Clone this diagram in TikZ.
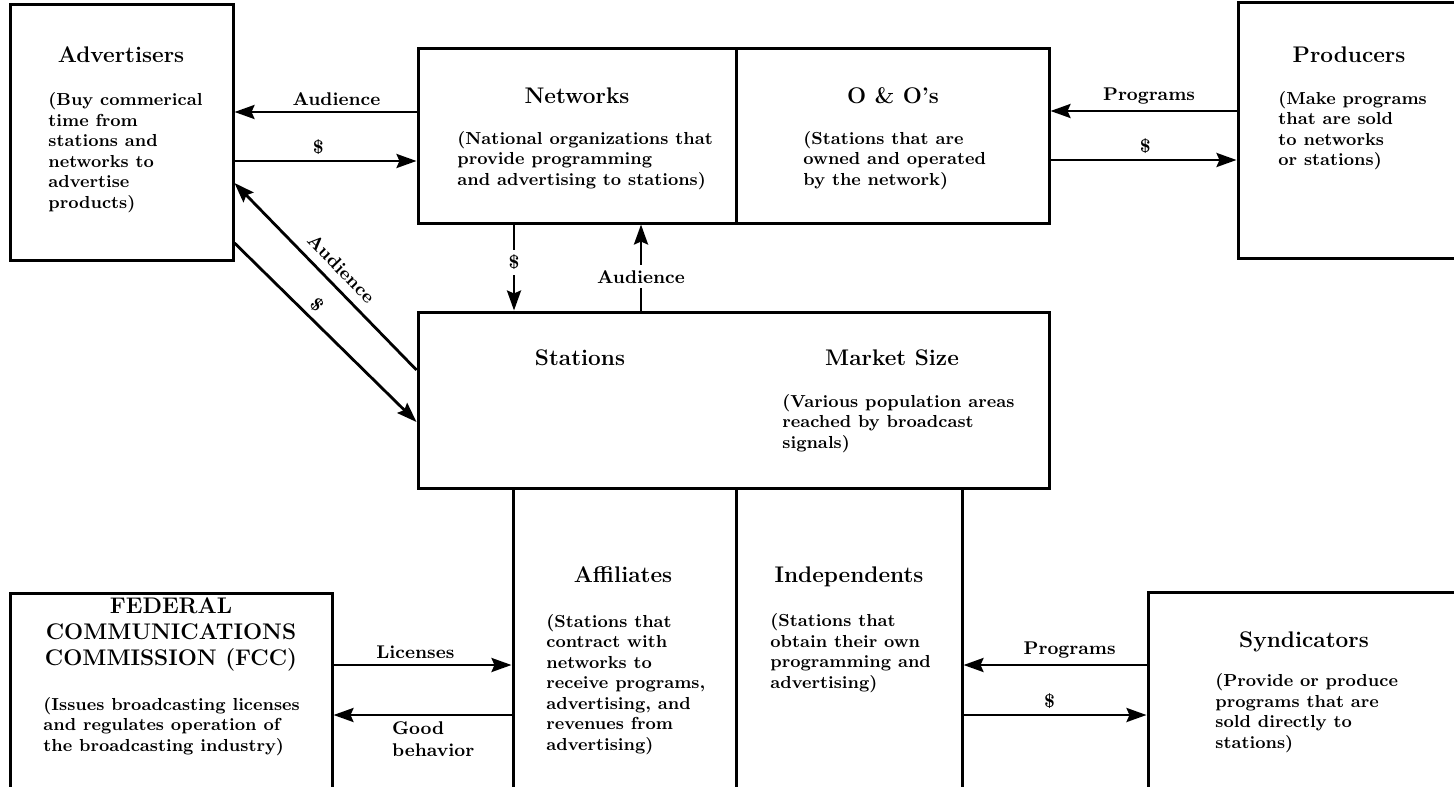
\documentclass[tikz,border=0pt]{standalone}
\usepackage{tikz}
\usetikzlibrary{arrows.meta}
\tikzstyle{box} = [rectangle, draw=black, line width=1.5pt, inner sep=0pt]
\tikzstyle{head} = [font=\fontsize{11.3}{13}\selectfont\bfseries, inner sep=0pt, anchor=base, align=center]
\tikzstyle{info} = [font=\fontsize{8.7}{10.25}\selectfont\bfseries, inner sep=0pt, anchor=base west, align=left]
\tikzstyle{flow} = [line width=1.4pt, -{Stealth[length=10pt, width=7pt, inset=1.5pt]}]
\tikzstyle{tag} = [font=\fontsize{9.2}{11}\selectfont\bfseries, inner sep=2.5pt]

\begin{document}
\begin{tikzpicture}[x=0.5pt, y=-0.5pt]
\useasboundingbox (0,0) rectangle (1454,786);

% boxes
\node (adv) [box, minimum width=111.5pt, minimum height=127.5pt] at (121.5,132.5) {};
\node (net) [box, minimum width=159pt, minimum height=87pt] at (577,136) {};
\node (oo) [box, minimum width=156.5pt, minimum height=87pt] at (892.5,136) {};
\node (prod) [box, minimum width=116pt, minimum height=127.5pt] at (1354,130.5) {};
\node (stat) [box, minimum width=315.5pt, minimum height=88pt] at (733.5,400) {};
\node (affil) [box, minimum width=111.5pt, minimum height=156pt] at (624.5,644) {};
\node (indep) [box, minimum width=113pt, minimum height=156pt] at (849,644) {};
\node (fcc) [box, minimum width=161pt, minimum height=103.5pt] at (171,696.5) {};
\node (synd) [box, minimum width=161pt, minimum height=104pt] at (1309,696) {};

% titles (base = last line)
\node (advh) [head] at (121,63) {Advertisers};
\node (neth) [head] at (577,104) {Networks};
\node (ooh) [head] at (893,104) {O \& O's};
\node (prodh) [head] at (1349,63) {Producers};
\node (stath) [head] at (580,365) {Stations};
\node (mkth) [head] at (892,365) {Market Size};
\node (affilh) [head] at (623,582) {Affiliates};
\node (indeph) [head] at (849,582) {Independents};
\node (fcch) [head] at (171,665) {FEDERAL\\COMMUNICATIONS\\COMMISSION (FCC)};
\node (syndh) [head] at (1304,647) {Syndicators};

% descriptions (base = last line)
\node (advd) [info] at (48,208.5) {(Buy commerical\\time from\\stations and\\networks to\\advertise\\products)};
\node (netd) [info] at (457,185) {(National organizations that\\provide programming\\and advertising to stations)};
\node (ood) [info] at (803,185) {(Stations that are\\owned and operated\\by the network)};
\node (prodd) [info] at (1278,166) {(Make programs\\that are sold\\to networks\\or stations)};
\node (mktd) [info] at (782,448) {(Various population areas\\reached by broadcast\\signals)};
\node (affild) [info] at (546,750) {(Stations that\\contract with\\networks to\\receive programs,\\advertising, and\\revenues from\\advertising)};
\node (indepd) [info] at (770,688) {(Stations that\\obtain their own\\programming and\\advertising)};
\node (fccd) [info] at (43,751) {(Issues broadcasting licenses\\and regulates operation of\\the broadcasting industry)};
\node (syndd) [info] at (1215,748) {(Provide or produce\\programs that are\\sold directly to\\stations)};

% money and audience flows
\draw[flow] (net.west |- 0,112) -- (adv.east |- 0,112) node[tag, above, pos=0.44] {Audience};
\draw[flow] (adv.east |- 0,161) -- (net.west |- 0,161) node[tag, above, pos=0.46] {\$};
\draw[flow] (prod.west |- 0,111) -- (oo.east |- 0,111) node[tag, above, pos=0.47] {Programs};
\draw[flow] (oo.east |- 0,160) -- (prod.west |- 0,160) node[tag, above, pos=0.51] {\$};
\draw[flow] (stat.west |- 0,370) -- (adv.east |- 0,183) node[tag, sloped, above=2pt, pos=0.48] {Audience};
\draw[flow] (adv.east |- 0,243) -- (stat.west |- 0,422) node[tag, sloped, above, pos=0.4] {\$};
\draw[flow] (net.south -| 514,0) -- (stat.north -| 514,0) node[tag, fill=white, pos=0.44] {\$};
\draw[flow] (stat.north -| 641,0) -- (net.south -| 641,0) node[tag, fill=white, pos=0.39] {Audience};
\draw[flow] (fcc.east |- 0,665) -- (affil.west |- 0,665) node[tag, above, pos=0.46] {Licenses};
\draw[flow] (affil.west |- 0,715) -- (fcc.east |- 0,715) node[tag, below, align=left, pos=0.44] {Good\\behavior};
\draw[flow] (synd.west |- 0,665) -- (indep.east |- 0,665) node[tag, above, pos=0.42] {Programs};
\draw[flow] (indep.east |- 0,715) -- (synd.west |- 0,715) node[tag, above, pos=0.47] {\$};
\end{tikzpicture}
\end{document}
